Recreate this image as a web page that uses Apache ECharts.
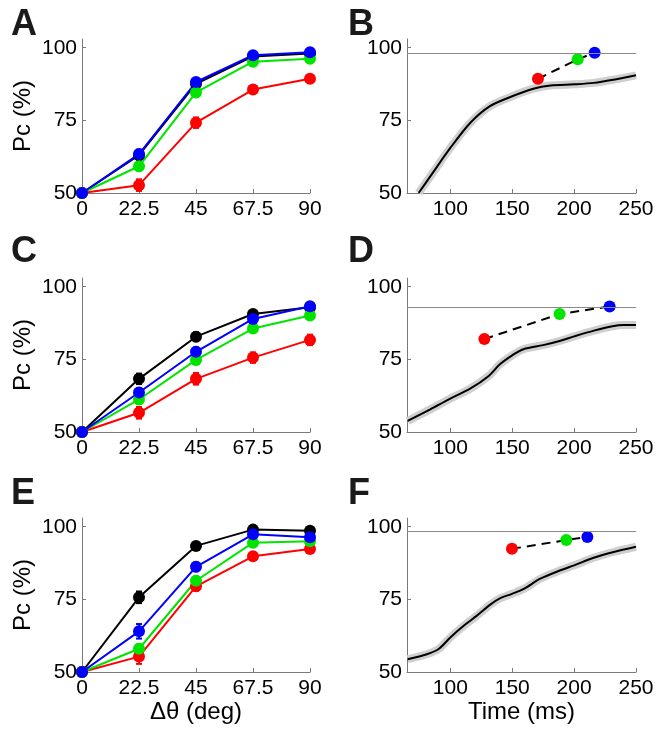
<!DOCTYPE html>
<html><head><meta charset="utf-8">
<script src="https://cdn.jsdelivr.net/npm/echarts@6/dist/echarts.min.js"></script>
<style>html,body{margin:0;padding:0;background:#fff}#c{width:659px;height:734px}</style>
</head><body><div id="c"></div>
<script>
// ---- data ----
const dTheta = [0, 22.5, 45, 67.5, 90];
const yTicks = [50, 75, 100];
const timeTicks = [100, 150, 200, 250];
const condColors = ['#ff0000', '#00e400', '#0000ff'];   // red, green, blue
const panelLetters = ['A', 'B', 'C', 'D', 'E', 'F'];

// Left panels: Pc vs delta theta (black, red, green, blue)
const A_black = [50, 63.0, 87.6, 97.0, 98.0];
const A_red   = [50, 52.7, 74.2, 85.6, 89.3];
const A_green = [50, 59.2, 84.6, 95.2, 96.2];
const A_blue  = [50, 63.4, 88.2, 97.4, 98.4];
const A_errBlack = [0.5, 1.5, 1.0, 0.5, 0.5];
const A_errRed   = [0.5, 2.0, 1.8, 1.0, 0.8];
const A_errGreen = [0.5, 1.5, 1.0, 0.8, 0.6];
const A_errBlue  = [0.5, 1.5, 1.0, 0.6, 0.5];

const C_black = [50, 68.3, 82.8, 90.6, 92.9];
const C_red   = [50, 56.6, 68.3, 75.6, 81.7];
const C_green = [50, 61.2, 74.8, 85.6, 90.1];
const C_blue  = [50, 63.6, 77.6, 88.9, 93.3];
const C_errBlack = [1.0, 1.8, 1.5, 1.0, 0.8];
const C_errRed   = [1.0, 2.0, 2.0, 1.8, 1.8];
const C_errGreen = [1.0, 1.5, 1.5, 1.2, 1.0];
const C_errBlue  = [1.0, 1.5, 1.5, 1.0, 1.0];

const E_black = [50, 75.7, 93.4, 99.0, 98.6];
const E_red   = [50, 55.3, 79.5, 89.8, 92.3];
const E_green = [50, 58.0, 81.4, 94.5, 95.0];
const E_blue  = [50, 64.0, 86.2, 97.4, 96.4];
const E_errBlack = [1.0, 2.0, 1.0, 0.6, 0.6];
const E_errRed   = [1.0, 2.5, 1.5, 1.0, 1.0];
const E_errGreen = [1.0, 1.5, 1.5, 1.0, 0.8];
const E_errBlue  = [1.0, 2.5, 1.5, 1.0, 0.8];

// Right panels: Pc vs time
const B_time = [74.4, 83.8, 100, 116, 132, 150, 167, 181, 200, 216, 232, 250];
const B_pc   = [50, 55.7, 65.5, 74.1, 79.9, 83.3, 85.9, 87.0, 87.4, 87.9, 89.0, 90.5];
const B_ref  = 98.2;
const B_ptTime = [170.8, 202.9, 216.6];
const B_ptPc   = [89.3, 96.0, 98.3];

const D_time = [65.5, 83.8, 100, 116, 131, 140, 150, 159, 175, 189, 200, 216, 231, 240, 250];
const D_pc   = [53.8, 57.8, 61.5, 64.9, 69.3, 73.3, 76.4, 78.5, 79.9, 81.4, 82.9, 84.9, 86.4, 86.8, 86.8];
const D_ref  = 92.9;
const D_ptTime = [127.5, 188.3, 228.7];
const D_ptPc   = [82.0, 90.6, 93.2];

const F_time = [65.5, 81, 90.6, 100, 110.8, 121.5, 132.3, 140.4, 149.8, 159.3, 172.7, 188.9, 200, 215.8, 232, 250];
const F_pc   = [54.4, 56.1, 57.9, 61.9, 65.9, 69.4, 73.2, 75.4, 76.9, 78.6, 82.1, 85.0, 86.7, 89.3, 91.3, 93.1];
const F_ref  = 98.5;
const F_ptTime = [149.8, 193.7, 210.7];
const F_ptPc   = [92.4, 95.4, 96.5];

// ---- build ----
const FONT = '"Liberation Sans", Arial, sans-serif';
const axisGray = '#7a7a7a';
const rowTops = [39, 278, 518];
const gridH = 154;
const leftX = 82, leftW = 228, rightX = 407, rightW = 229;

const grids = [], xAxes = [], yAxes = [], series = [], titles = [];
const letterTops = [2, 229, 471];

function yAxisCfg(i, withName) {
  return {
    gridIndex: i, type: 'value', min: 50, max: 103,
    name: withName ? 'Pc (%)' : '', nameLocation: 'middle', nameGap: 47,
    nameTextStyle: {fontSize: 24, color: '#000', fontFamily: FONT},
    axisLine: {show: true, lineStyle: {color: axisGray, width: 1}},
    axisTick: {show: true, inside: true, length: 4, customValues: yTicks, lineStyle: {color: axisGray}},
    axisLabel: {customValues: yTicks, fontSize: 21, color: '#000', margin: 5, fontFamily: FONT},
    splitLine: {show: false}
  };
}

function errSeries(i, ys, es, color) {
  return {
    type: 'custom', xAxisIndex: i, yAxisIndex: i, z: 3,
    data: dTheta.map((x, k) => [x, ys[k] - es[k], ys[k] + es[k]]),
    renderItem: (params, api) => {
      const lo = api.coord([api.value(0), api.value(1)]);
      const hi = api.coord([api.value(0), api.value(2)]);
      const w = 3;
      const st = {stroke: color, lineWidth: 2};
      return {type: 'group', children: [
        {type: 'line', shape: {x1: lo[0], y1: lo[1], x2: hi[0], y2: hi[1]}, style: st},
        {type: 'line', shape: {x1: lo[0] - w, y1: lo[1], x2: lo[0] + w, y2: lo[1]}, style: st},
        {type: 'line', shape: {x1: hi[0] - w, y1: hi[1], x2: hi[0] + w, y2: hi[1]}, style: st}
      ]};
    }
  };
}

function lineSeries(i, ys, color) {
  return {
    type: 'line', xAxisIndex: i, yAxisIndex: i, z: 3, clip: false,
    data: dTheta.map((x, k) => [x, ys[k]]),
    symbol: 'circle', symbolSize: 12,
    lineStyle: {color: color, width: 2}, itemStyle: {color: color, opacity: 1},
    animation: false
  };
}

const leftPanels = [
  {k: [A_black, A_red, A_green, A_blue], e: [A_errBlack, A_errRed, A_errGreen, A_errBlue]},
  {k: [C_black, C_red, C_green, C_blue], e: [C_errBlack, C_errRed, C_errGreen, C_errBlue]},
  {k: [E_black, E_red, E_green, E_blue], e: [E_errBlack, E_errRed, E_errGreen, E_errBlue]}
];
const rightPanels = [
  {t: B_time, p: B_pc, ref: B_ref, pt: B_ptTime, pp: B_ptPc},
  {t: D_time, p: D_pc, ref: D_ref, pt: D_ptTime, pp: D_ptPc},
  {t: F_time, p: F_pc, ref: F_ref, pt: F_ptTime, pp: F_ptPc}
];

let gi = 0;
for (let r = 0; r < 3; r++) {
  // left
  grids.push({left: leftX, top: rowTops[r], width: leftW, height: gridH});
  xAxes.push({
    gridIndex: gi, type: 'value', min: 0, max: 90, interval: 22.5,
    name: r === 2 ? 'Δθ (deg)' : '', nameLocation: 'middle', nameGap: 27,
    nameTextStyle: {fontSize: 24, color: '#000', fontFamily: FONT},
    axisLine: {lineStyle: {color: axisGray, width: 1}},
    axisTick: {inside: true, length: 4, lineStyle: {color: axisGray}},
    axisLabel: {fontSize: 21, color: '#000', margin: 6, fontFamily: FONT},
    splitLine: {show: false}
  });
  yAxes.push(yAxisCfg(gi, true));
  const cols = ['#000000', condColors[0], condColors[1], condColors[2]];
  const lp = leftPanels[r];
  for (let s = 0; s < 4; s++) {
    series.push(errSeries(gi, lp.k[s], lp.e[s], cols[s]));
    series.push(lineSeries(gi, lp.k[s], cols[s]));
  }
  titles.push({text: panelLetters[r * 2], left: 6, top: letterTops[r],
    textStyle: {fontSize: 36, fontWeight: 'bold', color: '#1a1a1a', fontFamily: FONT}});
  gi++;

  // right
  grids.push({left: rightX, top: rowTops[r], width: rightW, height: gridH});
  xAxes.push({
    gridIndex: gi, type: 'value', min: 65, max: 250,
    name: r === 2 ? 'Time (ms)' : '', nameLocation: 'middle', nameGap: 27,
    nameTextStyle: {fontSize: 24, color: '#000', fontFamily: FONT},
    axisLine: {lineStyle: {color: axisGray, width: 1}},
    axisTick: {inside: true, length: 4, customValues: timeTicks, lineStyle: {color: axisGray}},
    axisLabel: {customValues: timeTicks, fontSize: 21, color: '#000', margin: 6, fontFamily: FONT},
    splitLine: {show: false}
  });
  yAxes.push(yAxisCfg(gi, false));
  const rp = rightPanels[r];
  const curve = rp.t.map((t, k) => [t, rp.p[k]]);
  series.push({
    type: 'line', xAxisIndex: gi, yAxisIndex: gi, data: curve, smooth: 0.3,
    symbol: 'none', lineStyle: {color: '#cfcfcf', width: 8}, z: 1, animation: false,
    markLine: {silent: true, symbol: 'none', animation: false,
      label: {show: false},
      lineStyle: {color: '#8a8a8a', type: 'solid', width: 1},
      data: [{yAxis: rp.ref}]}
  });
  series.push({
    type: 'line', xAxisIndex: gi, yAxisIndex: gi, data: curve, smooth: 0.3,
    symbol: 'none', lineStyle: {color: '#000', width: 2}, z: 2, animation: false
  });
  series.push({
    type: 'line', xAxisIndex: gi, yAxisIndex: gi, z: 3, clip: false,
    data: rp.pt.map((t, k) => [t, rp.pp[k]]), symbol: 'none',
    lineStyle: {color: '#000', width: 2, type: [9, 6]}, animation: false
  });
  series.push({
    type: 'scatter', xAxisIndex: gi, yAxisIndex: gi, z: 4, clip: false,
    data: rp.pt.map((t, k) => ({value: [t, rp.pp[k]], itemStyle: {color: condColors[k], opacity: 1}})),
    itemStyle: {opacity: 1},
    symbol: 'circle', symbolSize: 12, animation: false
  });
  titles.push({text: panelLetters[r * 2 + 1], left: 343, top: letterTops[r],
    textStyle: {fontSize: 36, fontWeight: 'bold', color: '#1a1a1a', fontFamily: FONT}});
  gi++;
}

const chart = echarts.init(document.getElementById('c'), null, {renderer: 'canvas'});
chart.setOption({
  backgroundColor: '#fff',
  animation: false,
  textStyle: {fontFamily: FONT},
  title: titles,
  grid: grids,
  xAxis: xAxes,
  yAxis: yAxes,
  series: series
});
</script>
</body></html>
